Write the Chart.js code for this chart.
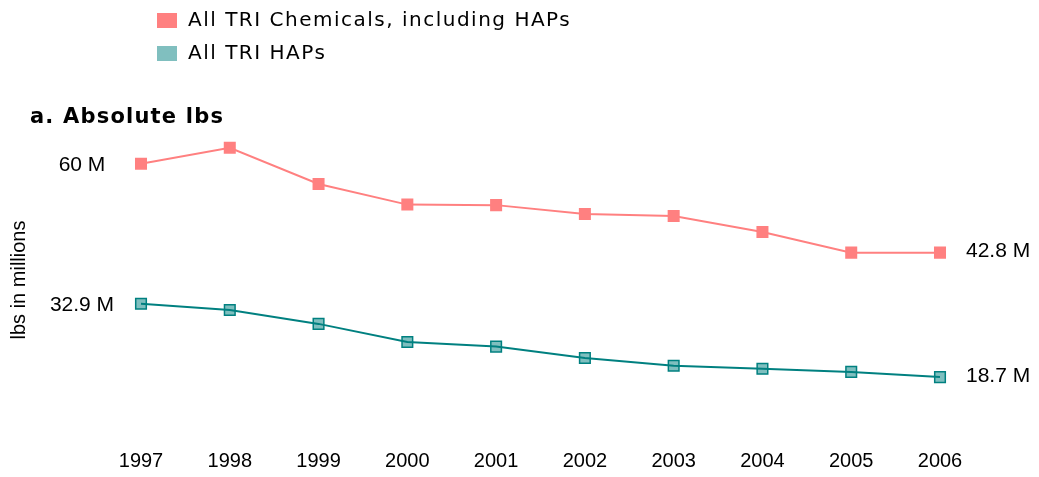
<!DOCTYPE html>
<html>
<head>
<meta charset="utf-8">
<script src="https://cdn.jsdelivr.net/npm/chart.js@4.4.1/dist/chart.umd.min.js"></script>
<style>
  body { margin: 0; background: #fff; }
  #wrap { width: 1039px; height: 477px; }
</style>
</head>
<body>
<div id="wrap"><canvas id="lbsChart"></canvas></div>
<script>
const years = ['1997', '1998', '1999', '2000', '2001', '2002', '2003', '2004', '2005', '2006'];
const allTri = [60, 63.1, 56.1, 52.1, 52.0, 50.3, 49.9, 46.8, 42.8, 42.8];
const triHaps = [32.9, 31.7, 29.0, 25.5, 24.6, 22.4, 20.9, 20.3, 19.7, 18.7];
const seriesNames = ['All TRI Chemicals, including HAPs', 'All TRI HAPs'];
const chartTitle = 'a. Absolute lbs';
const yTitle = 'lbs in millions';

const red = 'rgb(255, 128, 128)';
const teal = 'rgb(0, 128, 128)';
const tealLight = 'rgba(0, 128, 128, 0.5)';
const legendFill = [red, 'rgb(128, 191, 191)'];

// legend, title and the first/last value labels
const extras = {
    id: 'extras',
    afterDraw(chart) {
        const ctx = chart.ctx;
        ctx.save();
        ctx.fillStyle = '#000';
        ctx.textBaseline = 'middle';

        ctx.font = '20px "DejaVu Sans"';
        ctx.letterSpacing = '1.5px';
        seriesNames.forEach((name, i) => {
            const y = 21 + i * 33;
            ctx.fillStyle = legendFill[i];
            ctx.fillRect(157, y - 8, 20, 15);
            ctx.fillStyle = '#000';
            ctx.fillText(name, 188, y);
        });

        ctx.font = 'bold 21px "DejaVu Sans"';
        ctx.letterSpacing = '1.2px';
        ctx.fillText(chartTitle, 30, 118);

        ctx.letterSpacing = '0px';
        ctx.font = '21px "Liberation Sans", Arial';
        chart.data.datasets.forEach((ds, i) => {
            const meta = chart.getDatasetMeta(i);
            const first = meta.data[0];
            const last = meta.data[meta.data.length - 1];
            ctx.textAlign = 'center';
            ctx.fillText(ds.data[0] + ' M', first.x - 59, first.y + 1);
            ctx.textAlign = 'left';
            ctx.fillText(ds.data[ds.data.length - 1] + ' M', last.x + 26, last.y - 1);
        });
        ctx.restore();
    }
};

new Chart(document.getElementById('lbsChart'), {
    type: 'line',
    data: {
        labels: years,
        datasets: [{
            label: seriesNames[0],
            data: allTri,
            borderColor: red,
            backgroundColor: red,
            borderWidth: 2,
            pointStyle: 'rect',
            pointRadius: 8.5,
            pointBorderWidth: 0,
            tension: 0
        }, {
            label: seriesNames[1],
            data: triHaps,
            borderColor: teal,
            backgroundColor: tealLight,
            borderWidth: 2,
            pointStyle: 'rect',
            pointRadius: 7.5,
            pointBorderWidth: 1.5,
            pointBorderColor: teal,
            tension: 0
        }]
    },
    options: {
        responsive: true,
        maintainAspectRatio: false,
        animation: false,
        layout: { padding: { left: 3, right: 99, top: 138, bottom: 4.4 } },
        plugins: {
            legend: { display: false },
            tooltip: { enabled: false }
        },
        scales: {
            x: {
                offset: false,
                grid: { display: false },
                border: { display: false },
                ticks: {
                    padding: 19,
                    color: '#000',
                    font: { family: '"Liberation Sans", Arial', size: 20 }
                },
                afterFit(scale) { scale.height = 50.6; }
            },
            y: {
                min: 10,
                max: 65,
                grid: { display: false },
                border: { display: false },
                ticks: { display: false },
                title: {
                    display: true,
                    text: yTitle,
                    color: '#000',
                    font: { family: '"Liberation Sans", Arial', size: 20 }
                },
                afterFit(scale) { scale.width = 138; }
            }
        }
    },
    plugins: [extras]
});
</script>
</body>
</html>
